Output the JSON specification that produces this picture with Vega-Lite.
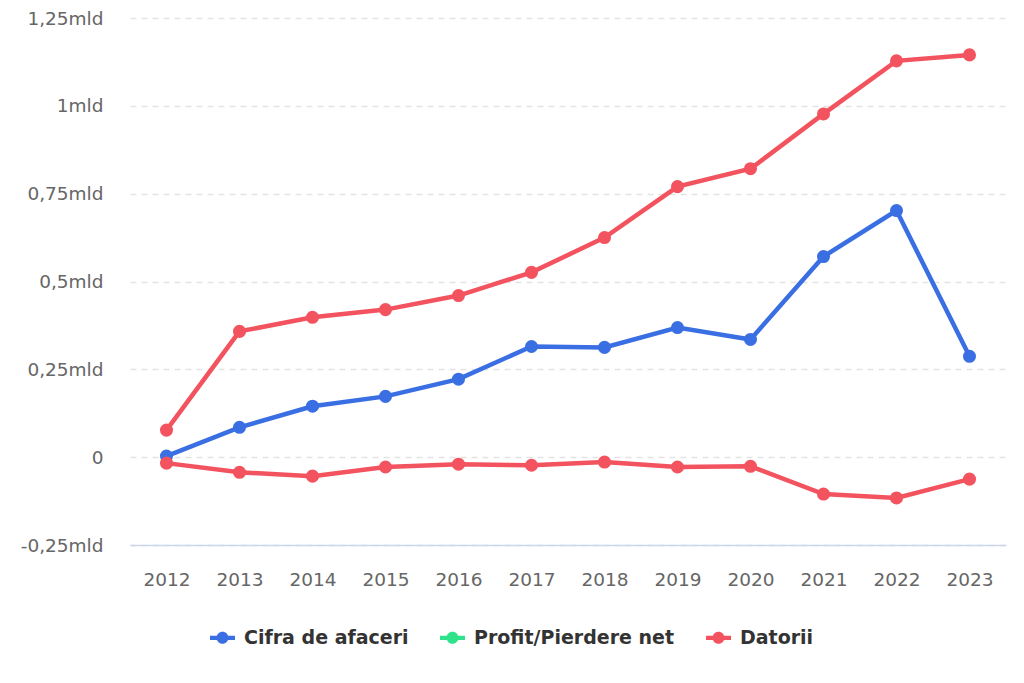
{
  "$schema": "https://vega.github.io/schema/vega-lite/v6.json",
  "width": 876,
  "height": 527,
  "autosize": {"type": "none"},
  "padding": {"left": 130, "top": 18, "right": 18, "bottom": 138},
  "background": "#ffffff",
  "config": {
    "view": {"stroke": null},
    "font": "DejaVu Sans"
  },
  "data": {
    "values": [
      {"year": "2012", "series": "Cifra de afaceri", "value": 0.003},
      {"year": "2013", "series": "Cifra de afaceri", "value": 0.085},
      {"year": "2014", "series": "Cifra de afaceri", "value": 0.145},
      {"year": "2015", "series": "Cifra de afaceri", "value": 0.173},
      {"year": "2016", "series": "Cifra de afaceri", "value": 0.222},
      {"year": "2017", "series": "Cifra de afaceri", "value": 0.315},
      {"year": "2018", "series": "Cifra de afaceri", "value": 0.3125},
      {"year": "2019", "series": "Cifra de afaceri", "value": 0.369},
      {"year": "2020", "series": "Cifra de afaceri", "value": 0.335},
      {"year": "2021", "series": "Cifra de afaceri", "value": 0.571},
      {"year": "2022", "series": "Cifra de afaceri", "value": 0.702},
      {"year": "2023", "series": "Cifra de afaceri", "value": 0.287},
      {"year": "2012", "series": "Profit/Pierdere net", "value": -0.017},
      {"year": "2013", "series": "Profit/Pierdere net", "value": -0.043},
      {"year": "2014", "series": "Profit/Pierdere net", "value": -0.054},
      {"year": "2015", "series": "Profit/Pierdere net", "value": -0.028},
      {"year": "2016", "series": "Profit/Pierdere net", "value": -0.020},
      {"year": "2017", "series": "Profit/Pierdere net", "value": -0.023},
      {"year": "2018", "series": "Profit/Pierdere net", "value": -0.014},
      {"year": "2019", "series": "Profit/Pierdere net", "value": -0.028},
      {"year": "2020", "series": "Profit/Pierdere net", "value": -0.026},
      {"year": "2021", "series": "Profit/Pierdere net", "value": -0.105},
      {"year": "2022", "series": "Profit/Pierdere net", "value": -0.116},
      {"year": "2023", "series": "Profit/Pierdere net", "value": -0.0625},
      {"year": "2012", "series": "Datorii", "value": 0.077},
      {"year": "2013", "series": "Datorii", "value": 0.358},
      {"year": "2014", "series": "Datorii", "value": 0.398},
      {"year": "2015", "series": "Datorii", "value": 0.420},
      {"year": "2016", "series": "Datorii", "value": 0.460},
      {"year": "2017", "series": "Datorii", "value": 0.526},
      {"year": "2018", "series": "Datorii", "value": 0.625},
      {"year": "2019", "series": "Datorii", "value": 0.770},
      {"year": "2020", "series": "Datorii", "value": 0.821},
      {"year": "2021", "series": "Datorii", "value": 0.977},
      {"year": "2022", "series": "Datorii", "value": 1.128},
      {"year": "2023", "series": "Datorii", "value": 1.145}
    ]
  },
  "mark": {
    "type": "line",
    "strokeWidth": 4.5,
    "point": {"filled": true, "size": 170, "opacity": 1}
  },
  "encoding": {
    "x": {
      "field": "year",
      "type": "ordinal",
      "sort": null,
      "scale": {"padding": 0.5},
      "axis": {
        "title": null,
        "labelAngle": 0,
        "labelFontSize": 18.5,
        "labelColor": "#666666",
        "labelPadding": 25,
        "ticks": false,
        "domain": true,
        "domainColor": "#ccd6eb",
        "domainWidth": 1.5,
        "grid": false
      }
    },
    "y": {
      "field": "value",
      "type": "quantitative",
      "scale": {"domain": [-0.25, 1.25], "nice": false, "zero": false},
      "axis": {
        "title": null,
        "values": [-0.25, 0, 0.25, 0.5, 0.75, 1, 1.25],
        "labelExpr": "datum.value == 0 ? '0' : replace(toString(datum.value), '.', ',') + 'mld'",
        "labelFontSize": 18.5,
        "labelColor": "#666666",
        "labelPadding": 27,
        "ticks": false,
        "domain": false,
        "grid": true,
        "gridColor": "#e3e3e3",
        "gridDash": [6, 5],
        "gridWidth": 1.5
      }
    },
    "color": {
      "condition": {"test": "datum.series === 'Profit/Pierdere net'", "value": "#f2535f"},
      "field": "series",
      "type": "nominal",
      "sort": null,
      "scale": {
        "domain": ["Cifra de afaceri", "Profit/Pierdere net", "Datorii"],
        "range": ["#3a6fe3", "#2fe38a", "#f2535f"]
      },
      "legend": {
        "title": null,
        "orient": "none",
        "direction": "horizontal",
        "legendX": 80,
        "legendY": 607,
        "labelFontSize": 19,
        "labelFontWeight": "bold",
        "labelColor": "#333333",
        "labelLimit": 0,
        "columnPadding": 31,
        "symbolType": "M -1 -0.17 L 1 -0.17 L 1 0.17 L -1 0.17 Z M 0.48 0 A 0.48 0.48 0 1 1 -0.48 0 A 0.48 0.48 0 1 1 0.48 0 Z",
        "symbolSize": 625,
        "symbolStrokeWidth": 0,
        "symbolOpacity": 1,
        "labelOffset": 9
      }
    }
  }
}
